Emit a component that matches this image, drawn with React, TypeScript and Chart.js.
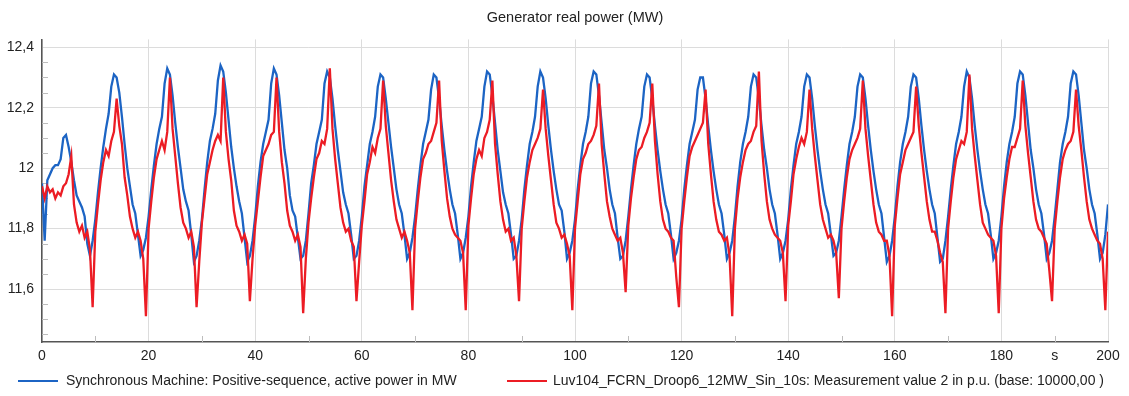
import { useEffect, useRef } from 'react';
import { Chart, registerables } from 'chart.js';

Chart.register(...registerables);

const TITLE = 'Generator real power (MW)';
const SERIES_LABELS = [
  'Synchronous Machine: Positive-sequence, active power in MW',
  'Luv104_FCRN_Droop6_12MW_Sin_10s: Measurement value 2 in p.u. (base: 10000,00 )',
];
const SAMPLE_STEP_S = 0.5;
const X_MIN = 0;
const X_MAX = 200;
const X_STEP = 10;
const X_LABELED = [0, 20, 40, 60, 80, 100, 120, 140, 160, 180, 200];
const X_UNIT_AT = 190;
const X_UNIT = 's';
const X_MINOR = [10, 30, 50, 70, 90, 110, 130, 150, 170, 190];
const Y_MIN = 11.425;
const Y_MAX = 12.426;
const Y_STEP = 0.2;
const Y_MINOR = [11.45, 11.5, 11.55, 11.65, 11.7, 11.75, 11.85, 11.9, 11.95, 12.05, 12.1, 12.15, 12.25, 12.3, 12.35];

// Synchronous machine active power (MW), one value every 0.5 s
const machinePower = [
  11.95, 11.76, 11.96, 11.98, 12.00, 12.01, 12.01, 12.03, 12.10, 12.11, 12.07, 12.02, 11.96, 11.91, 11.89, 11.87, 11.84, 11.75, 11.71, 11.76,
  11.83, 11.92, 12.00, 12.07, 12.13, 12.18, 12.27, 12.31, 12.30, 12.25, 12.17, 12.08, 12.00, 11.94, 11.88, 11.85, 11.78, 11.71, 11.73, 11.77,
  11.84, 11.93, 12.01, 12.08, 12.13, 12.17, 12.28, 12.33, 12.31, 12.24, 12.15, 12.07, 12.00, 11.93, 11.89, 11.86, 11.78, 11.69, 11.71, 11.76,
  11.83, 11.93, 12.02, 12.09, 12.13, 12.18, 12.29, 12.34, 12.32, 12.25, 12.16, 12.07, 12.00, 11.94, 11.89, 11.85, 11.77, 11.69, 11.71, 11.76,
  11.84, 11.94, 12.02, 12.08, 12.12, 12.16, 12.28, 12.33, 12.31, 12.24, 12.15, 12.06, 12.00, 11.91, 11.86, 11.84, 11.77, 11.70, 11.71, 11.76,
  11.85, 11.95, 12.01, 12.08, 12.12, 12.16, 12.28, 12.32, 12.30, 12.23, 12.14, 12.06, 11.99, 11.92, 11.88, 11.85, 11.78, 11.70, 11.71, 11.76,
  11.84, 11.94, 12.01, 12.08, 12.12, 12.17, 12.27, 12.31, 12.30, 12.23, 12.15, 12.07, 12.00, 11.93, 11.88, 11.85, 11.78, 11.70, 11.72, 11.77,
  11.84, 11.93, 12.01, 12.08, 12.12, 12.16, 12.26, 12.31, 12.30, 12.23, 12.14, 12.06, 11.99, 11.93, 11.88, 11.85, 11.78, 11.70, 11.72, 11.77,
  11.84, 11.94, 12.02, 12.09, 12.13, 12.17, 12.27, 12.32, 12.31, 12.24, 12.15, 12.06, 11.99, 11.92, 11.88, 11.85, 11.78, 11.70, 11.71, 11.76,
  11.83, 11.93, 12.01, 12.08, 12.12, 12.17, 12.27, 12.32, 12.30, 12.23, 12.14, 12.06, 11.99, 11.93, 11.88, 11.86, 11.79, 11.70, 11.72, 11.76,
  11.83, 11.93, 12.01, 12.08, 12.12, 12.17, 12.28, 12.32, 12.31, 12.24, 12.15, 12.06, 12.00, 11.93, 11.88, 11.85, 11.77, 11.70, 11.71, 11.76,
  11.84, 11.93, 12.01, 12.08, 12.13, 12.17, 12.27, 12.31, 12.30, 12.23, 12.14, 12.06, 11.99, 11.93, 11.88, 11.85, 11.78, 11.70, 11.72, 11.76,
  11.83, 11.93, 12.01, 12.08, 12.12, 12.16, 12.26, 12.30, 12.30, 12.23, 12.14, 12.06, 11.99, 11.93, 11.88, 11.85, 11.78, 11.70, 11.72, 11.76,
  11.84, 11.94, 12.02, 12.08, 12.12, 12.17, 12.27, 12.31, 12.30, 12.23, 12.14, 12.06, 12.00, 11.93, 11.88, 11.85, 11.78, 11.70, 11.72, 11.76,
  11.83, 11.93, 12.01, 12.08, 12.12, 12.17, 12.27, 12.31, 12.30, 12.23, 12.14, 12.06, 11.99, 11.93, 11.88, 11.85, 11.78, 11.71, 11.72, 11.76,
  11.84, 11.93, 12.01, 12.08, 12.12, 12.17, 12.27, 12.31, 12.30, 12.23, 12.14, 12.06, 11.99, 11.93, 11.88, 11.85, 11.77, 11.69, 11.71, 11.76,
  11.84, 11.94, 12.02, 12.08, 12.12, 12.17, 12.27, 12.31, 12.30, 12.23, 12.14, 12.06, 11.99, 11.93, 11.88, 11.85, 11.77, 11.69, 11.70, 11.76,
  11.84, 11.93, 12.01, 12.08, 12.12, 12.17, 12.27, 12.32, 12.30, 12.23, 12.14, 12.06, 11.99, 11.93, 11.88, 11.85, 11.78, 11.70, 11.72, 11.76,
  11.84, 11.94, 12.02, 12.08, 12.12, 12.17, 12.28, 12.32, 12.31, 12.24, 12.15, 12.06, 12.00, 11.93, 11.88, 11.85, 11.78, 11.70, 11.72, 11.76,
  11.84, 11.93, 12.02, 12.08, 12.12, 12.17, 12.28, 12.32, 12.31, 12.24, 12.15, 12.06, 12.00, 11.93, 11.88, 11.85, 11.78, 11.70, 11.72, 11.78,
  11.88,
];

// Measurement value 2 (p.u. x base), one value every 0.5 s
const measuredPower = [
  11.94, 11.90, 11.94, 11.92, 11.93, 11.90, 11.92, 11.91, 11.94, 11.95, 11.98, 12.04, 11.88, 11.82, 11.79, 11.81, 11.77, 11.79, 11.73, 11.54,
  11.79, 11.88, 11.96, 12.02, 12.06, 12.04, 12.09, 12.12, 12.23, 12.14, 12.08, 11.97, 11.91, 11.84, 11.80, 11.77, 11.79, 11.76, 11.70, 11.51,
  11.80, 11.89, 11.97, 12.03, 12.06, 12.09, 12.06, 12.12, 12.30, 12.13, 12.04, 11.95, 11.87, 11.82, 11.80, 11.77, 11.79, 11.74, 11.54, 11.69,
  11.82, 11.90, 11.98, 12.02, 12.06, 12.09, 12.11, 12.09, 12.30, 12.12, 12.03, 11.96, 11.86, 11.81, 11.79, 11.76, 11.78, 11.75, 11.56, 11.70,
  11.81, 11.89, 11.97, 12.04, 12.06, 12.08, 12.11, 12.12, 12.30, 12.12, 12.02, 11.95, 11.86, 11.81, 11.79, 11.76, 11.78, 11.74, 11.52, 11.70,
  11.82, 11.90, 11.97, 12.03, 12.05, 12.09, 12.08, 12.13, 12.33, 12.13, 12.03, 11.95, 11.87, 11.82, 11.79, 11.80, 11.76, 11.74, 11.56, 11.69,
  11.81, 11.89, 11.98, 12.02, 12.07, 12.05, 12.10, 12.13, 12.29, 12.14, 12.05, 11.96, 11.89, 11.83, 11.80, 11.77, 11.79, 11.76, 11.72, 11.53,
  11.80, 11.89, 11.97, 12.03, 12.05, 12.08, 12.09, 12.12, 12.15, 12.29, 12.09, 11.99, 11.90, 11.84, 11.80, 11.78, 11.77, 11.76, 11.72, 11.53,
  11.81, 11.90, 11.98, 12.03, 12.06, 12.04, 12.10, 12.12, 12.16, 12.29, 12.08, 11.98, 11.89, 11.83, 11.79, 11.80, 11.76, 11.77, 11.71, 11.56,
  11.80, 11.89, 11.97, 12.02, 12.06, 12.08, 12.10, 12.13, 12.26, 12.13, 12.04, 11.96, 11.88, 11.82, 11.80, 11.77, 11.78, 11.75, 11.71, 11.53,
  11.80, 11.89, 11.98, 12.03, 12.05, 12.08, 12.09, 12.11, 12.14, 12.28, 12.08, 11.98, 11.89, 11.84, 11.80, 11.78, 11.76, 11.77, 11.72, 11.59,
  11.81, 11.90, 11.97, 12.03, 12.06, 12.07, 12.10, 12.12, 12.15, 12.28, 12.09, 11.98, 11.89, 11.83, 11.80, 11.79, 11.77, 11.76, 11.64, 11.54,
  11.80, 11.89, 11.97, 12.04, 12.07, 12.09, 12.11, 12.13, 12.15, 12.26, 12.08, 11.98, 11.89, 11.83, 11.79, 11.78, 11.76, 11.77, 11.71, 11.51,
  11.80, 11.90, 11.97, 12.02, 12.06, 12.08, 12.09, 12.12, 12.14, 12.32, 12.09, 11.98, 11.89, 11.83, 11.80, 11.78, 11.77, 11.76, 11.72, 11.56,
  11.81, 11.89, 11.98, 12.03, 12.07, 12.10, 12.08, 12.12, 12.26, 12.13, 12.04, 11.96, 11.88, 11.83, 11.80, 11.77, 11.78, 11.76, 11.72, 11.57,
  11.80, 11.89, 11.97, 12.03, 12.06, 12.08, 12.10, 12.13, 12.29, 12.13, 12.04, 11.96, 11.88, 11.82, 11.79, 11.78, 11.76, 11.76, 11.71, 11.51,
  11.81, 11.90, 11.98, 12.02, 12.06, 12.08, 12.10, 12.12, 12.27, 12.14, 12.05, 11.97, 11.89, 11.83, 11.79, 11.79, 11.76, 11.72, 11.69, 11.52,
  11.80, 11.89, 11.97, 12.03, 12.06, 12.09, 12.08, 12.12, 12.31, 12.13, 12.04, 11.96, 11.88, 11.82, 11.80, 11.78, 11.77, 11.76, 11.71, 11.52,
  11.80, 11.90, 11.97, 12.03, 12.07, 12.07, 12.10, 12.13, 12.29, 12.14, 12.05, 11.97, 11.89, 11.83, 11.80, 11.79, 11.77, 11.75, 11.66, 11.56,
  11.80, 11.89, 11.97, 12.03, 12.06, 12.08, 12.09, 12.12, 12.26, 12.14, 12.06, 11.97, 11.89, 11.83, 11.80, 11.78, 11.76, 11.75, 11.70, 11.53,
  11.79,
];

const COLORS = ['#1c64c4', '#ec1c24'];
const FONT_FAMILY = '"Liberation Sans", Arial, Helvetica, sans-serif';
const TEXT_COLOR = '#222222';
const GRID_COLOR = '#dcdcdc';
const AXIS_COLOR = '#555555';
const LEGEND_LINE_X = [18, 507];
const LEGEND_TEXT_X = [66, 553];
const LEGEND_LINE_LEN = 40;
const LEGEND_Y = 381;

const toPoints = (values: number[]) => values.map((v, i) => ({ x: i * SAMPLE_STEP_S, y: v }));

const formatY = (v: number) => {
  const r = Math.round(v * 10) / 10;
  return Number.isInteger(r) ? String(r) : r.toFixed(1).replace('.', ',');
};

const minorTicksPlugin = {
  id: 'minorTicks',
  beforeDatasetsDraw(chart: any) {
    const { ctx, chartArea } = chart;
    const xs = chart.scales.x;
    const ys = chart.scales.y;
    ctx.save();
    ctx.strokeStyle = '#bdbdbd';
    ctx.lineWidth = 1;
    ctx.beginPath();
    for (const v of X_MINOR) {
      const px = Math.round(xs.getPixelForValue(v)) + 0.5;
      ctx.moveTo(px, chartArea.bottom);
      ctx.lineTo(px, chartArea.bottom - 6);
    }
    for (const v of Y_MINOR) {
      const py = Math.round(ys.getPixelForValue(v)) + 0.5;
      ctx.moveTo(chartArea.left, py);
      ctx.lineTo(chartArea.left + 6, py);
    }
    ctx.stroke();
    ctx.restore();
  },
};

const lineLegendPlugin = {
  id: 'lineLegend',
  afterDraw(chart: any) {
    const { ctx } = chart;
    ctx.save();
    ctx.font = `14px ${FONT_FAMILY}`;
    ctx.textBaseline = 'middle';
    ctx.textAlign = 'left';
    chart.data.datasets.forEach((ds: any, i: number) => {
      const x0 = LEGEND_LINE_X[i];
      ctx.strokeStyle = ds.borderColor;
      ctx.lineWidth = 2;
      ctx.beginPath();
      ctx.moveTo(x0, LEGEND_Y);
      ctx.lineTo(x0 + LEGEND_LINE_LEN, LEGEND_Y);
      ctx.stroke();
      ctx.fillStyle = TEXT_COLOR;
      ctx.fillText(ds.label, LEGEND_TEXT_X[i], LEGEND_Y);
    });
    ctx.restore();
  },
};

export default function App() {
  const canvasRef = useRef<HTMLCanvasElement | null>(null);

  useEffect(() => {
    const canvas = canvasRef.current;
    if (!canvas) return;
    const chart = new Chart(canvas, {
      type: 'line',
      data: {
        datasets: [
          {
            label: SERIES_LABELS[0],
            data: toPoints(machinePower),
            borderColor: COLORS[0],
            backgroundColor: COLORS[0],
            borderWidth: 2.3,
            pointRadius: 0,
            tension: 0,
            order: 1,
          },
          {
            label: SERIES_LABELS[1],
            data: toPoints(measuredPower),
            borderColor: COLORS[1],
            backgroundColor: COLORS[1],
            borderWidth: 2.3,
            pointRadius: 0,
            tension: 0,
            order: 0,
          },
        ],
      },
      options: {
        responsive: false,
        animation: false,
        events: [],
        layout: { padding: { left: 0, right: 21, top: 0, bottom: 0 } },
        plugins: {
          legend: { display: false },
          tooltip: { enabled: false },
          title: {
            display: true,
            text: TITLE,
            fullSize: false,
            color: TEXT_COLOR,
            font: { family: FONT_FAMILY, size: 14.5, weight: 'normal' },
            padding: { top: 9, bottom: 13 },
          },
        },
        scales: {
          x: {
            type: 'linear',
            min: X_MIN,
            max: X_MAX,
            ticks: {
              stepSize: X_STEP,
              autoSkip: false,
              maxRotation: 0,
              color: TEXT_COLOR,
              font: { family: FONT_FAMILY, size: 14 },
              padding: 6,
              callback: (v: any) => (X_LABELED.includes(v) ? String(v) : v === X_UNIT_AT ? X_UNIT : ''),
            },
            grid: {
              drawTicks: false,
              color: (c: any) => (c.tick && X_LABELED.includes(c.tick.value) ? GRID_COLOR : 'rgba(0,0,0,0)'),
              lineWidth: 1,
            },
            border: { color: AXIS_COLOR, width: 1.5 },
            afterFit: (s: any) => {
              s.height = 54;
            },
          },
          y: {
            type: 'linear',
            min: Y_MIN,
            max: Y_MAX,
            ticks: {
              stepSize: Y_STEP,
              includeBounds: false,
              color: TEXT_COLOR,
              font: { family: FONT_FAMILY, size: 14 },
              padding: 8,
              callback: (v: any) => formatY(Number(v)),
            },
            grid: { drawTicks: false, color: GRID_COLOR, lineWidth: 1 },
            border: { color: AXIS_COLOR, width: 1.5 },
            afterFit: (s: any) => {
              s.width = 42;
            },
          },
        },
      },
      plugins: [minorTicksPlugin, lineLegendPlugin],
    });
    return () => chart.destroy();
  }, []);

  return (
    <div style={{ position: 'fixed', left: 0, top: 0, width: 1129, height: 396, background: '#ffffff' }}>
      <canvas ref={canvasRef} width={1129} height={396} style={{ display: 'block' }} />
    </div>
  );
}
